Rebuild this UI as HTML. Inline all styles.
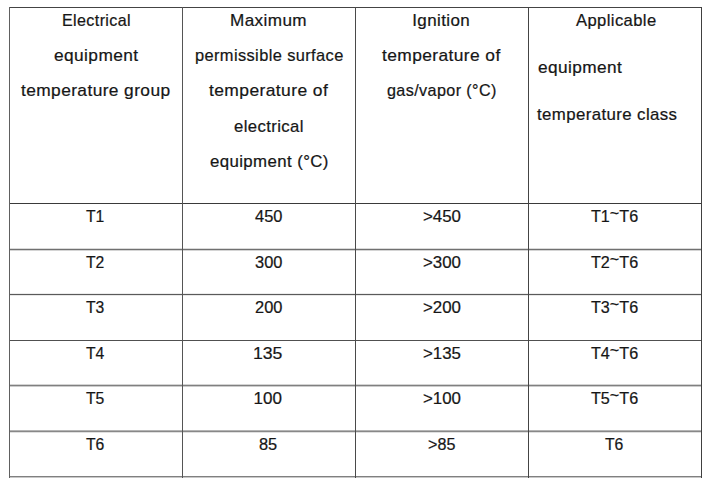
<!DOCTYPE html>
<html><head><meta charset="utf-8"><style>
html,body{margin:0;padding:0;background:#fff;width:715px;height:484px;overflow:hidden;position:relative}
.v{position:absolute;width:1px}
.h{position:absolute;height:1px}
.t{position:absolute;font-family:"Liberation Sans",sans-serif;font-size:17px;line-height:20px;color:#161616;white-space:nowrap;-webkit-text-stroke:0.22px #161616;transform-origin:0 0}
.ls{letter-spacing:0.4px}
.tl{position:relative;top:-3px}
</style></head><body>

<div class="h" style="left:9px;top:7px;width:693px;background:#444"></div>
<div class="h" style="left:9px;top:203px;width:693px;background:#3a3a3a"></div>
<div class="h" style="left:9px;top:248px;width:693px;background:#dadada"></div>
<div class="h" style="left:9px;top:249px;width:693px;background:#707070"></div>
<div class="h" style="left:9px;top:250px;width:693px;background:#d4d4d4"></div>
<div class="h" style="left:9px;top:293px;width:693px;background:#ececec"></div>
<div class="h" style="left:9px;top:294px;width:693px;background:#5a5a5a"></div>
<div class="h" style="left:9px;top:295px;width:693px;background:#e8e8e8"></div>
<div class="h" style="left:9px;top:340px;width:693px;background:#505050"></div>
<div class="h" style="left:9px;top:384px;width:693px;background:#d4d4d4"></div>
<div class="h" style="left:9px;top:385px;width:693px;background:#808080"></div>
<div class="h" style="left:9px;top:386px;width:693px;background:#cccccc"></div>
<div class="h" style="left:9px;top:430px;width:693px;background:#b4b4b4"></div>
<div class="h" style="left:9px;top:431px;width:693px;background:#888"></div>
<div class="h" style="left:9px;top:432px;width:693px;background:#e0e0e0"></div>
<div class="h" style="left:9px;top:476px;width:693px;background:#808080"></div>
<div class="h" style="left:9px;top:477px;width:693px;background:#c8c8c8"></div>
<div class="v" style="left:9px;top:7px;height:471px;background:#606060"></div>
<div class="v" style="left:182px;top:7px;height:471px;background:#555"></div>
<div class="v" style="left:355px;top:7px;height:471px;background:#4a4a4a"></div>
<div class="v" style="left:528px;top:7px;height:471px;background:#444"></div>
<div class="v" style="left:701px;top:7px;height:471px;background:#404040"></div>
<div class="t ls" style="left:61.90px;top:11px;transform:scaleX(0.9458)">Electrical</div>
<div class="t ls" style="left:53.50px;top:46px;transform:scaleX(1.0181)">equipment</div>
<div class="t ls" style="left:21.00px;top:81px;transform:scaleX(1.0192)">temperature group</div>
<div class="t ls" style="left:230.20px;top:11px;transform:scaleX(1.0066)">Maximum</div>
<div class="t ls" style="left:194.50px;top:46px;transform:scaleX(0.9649)">permissible surface</div>
<div class="t ls" style="left:208.80px;top:81px;transform:scaleX(1.0256)">temperature of</div>
<div class="t ls" style="left:233.70px;top:117px;transform:scaleX(0.9817)">electrical</div>
<div class="t ls" style="left:210.00px;top:152px;transform:scaleX(0.9891)">equipment (°C)</div>
<div class="t ls" style="left:412.20px;top:11px;transform:scaleX(1.0000)">Ignition</div>
<div class="t ls" style="left:382.30px;top:46px;transform:scaleX(1.0214)">temperature of</div>
<div class="t ls" style="left:386.50px;top:81px;transform:scaleX(0.9513)">gas/vapor (°C)</div>
<div class="t ls" style="left:575.80px;top:11px;transform:scaleX(0.9768)">Applicable</div>
<div class="t ls" style="left:537.80px;top:58px;transform:scaleX(1.0145)">equipment</div>
<div class="t ls" style="left:537.00px;top:105px;transform:scaleX(0.9894)">temperature class</div>
<div class="t" style="left:86.25px;top:207px;transform:scaleX(0.9250)">T1</div>
<div class="t" style="left:254.50px;top:207px;transform:scaleX(0.9655)">450</div>
<div class="t" style="left:422.65px;top:207px;transform:scaleX(0.9921)">&gt;450</div>
<div class="t" style="left:590.75px;top:207px;transform:scaleX(0.9500)">T1<span class="tl">~</span>T6</div>
<div class="t" style="left:86.25px;top:253px;transform:scaleX(0.9250)">T2</div>
<div class="t" style="left:254.50px;top:253px;transform:scaleX(0.9655)">300</div>
<div class="t" style="left:422.65px;top:253px;transform:scaleX(0.9921)">&gt;300</div>
<div class="t" style="left:590.75px;top:253px;transform:scaleX(0.9500)">T2<span class="tl">~</span>T6</div>
<div class="t" style="left:86.25px;top:298px;transform:scaleX(0.9250)">T3</div>
<div class="t" style="left:254.50px;top:298px;transform:scaleX(0.9655)">200</div>
<div class="t" style="left:422.65px;top:298px;transform:scaleX(0.9921)">&gt;200</div>
<div class="t" style="left:590.75px;top:298px;transform:scaleX(0.9500)">T3<span class="tl">~</span>T6</div>
<div class="t" style="left:86.25px;top:344px;transform:scaleX(0.9250)">T4</div>
<div class="t" style="left:253.46px;top:344px;transform:scaleX(1.0370)">135</div>
<div class="t" style="left:422.65px;top:344px;transform:scaleX(0.9921)">&gt;135</div>
<div class="t" style="left:590.75px;top:344px;transform:scaleX(0.9500)">T4<span class="tl">~</span>T6</div>
<div class="t" style="left:86.25px;top:389px;transform:scaleX(0.9250)">T5</div>
<div class="t" style="left:253.50px;top:389px;transform:scaleX(1.0000)">100</div>
<div class="t" style="left:422.65px;top:389px;transform:scaleX(0.9921)">&gt;100</div>
<div class="t" style="left:590.75px;top:389px;transform:scaleX(0.9500)">T5<span class="tl">~</span>T6</div>
<div class="t" style="left:86.25px;top:435px;transform:scaleX(0.9250)">T6</div>
<div class="t" style="left:259.35px;top:435px;transform:scaleX(0.9632)">85</div>
<div class="t" style="left:427.75px;top:435px;transform:scaleX(0.9483)">&gt;85</div>
<div class="t" style="left:605.25px;top:435px;transform:scaleX(0.9250)">T6</div>
</body></html>
